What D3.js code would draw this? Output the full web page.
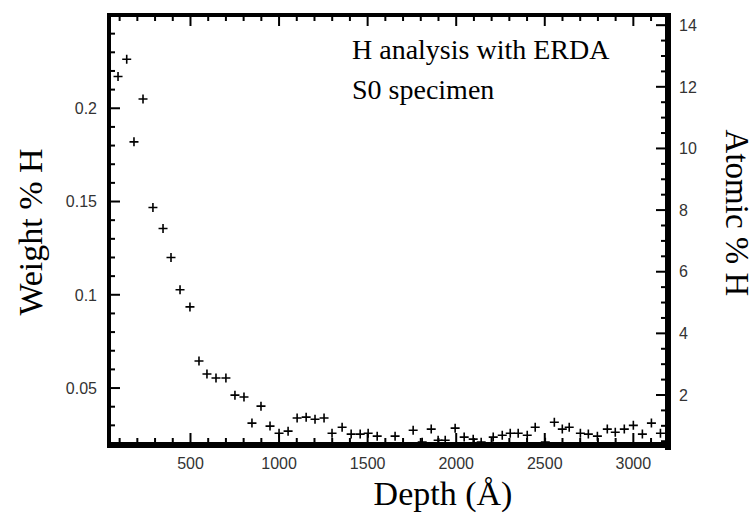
<!DOCTYPE html>
<html>
<head>
<meta charset="utf-8">
<script src="https://cdn.jsdelivr.net/npm/d3@7"></script>
<style>
  html, body { margin: 0; padding: 0; background: #fff; }
  svg { display: block; }
</style>
</head>
<body>
<svg id="chart" width="754" height="514"></svg>
<script>
// ---- data ----
const depth = [91, 140, 181, 232, 288, 345, 390, 441, 497, 548, 593, 644, 700, 751, 802, 847, 898, 949, 1000, 1051,
  1102, 1153, 1203, 1254, 1299, 1356, 1407, 1458, 1503, 1554, 1655, 1757, 1808, 1859, 1898, 1938, 1994, 2045, 2096, 2141,
  2209, 2260, 2305, 2350, 2401, 2446, 2503, 2554, 2599, 2638, 2701, 2746, 2797, 2853, 2898, 2949, 3000, 3051, 3102, 3153];
const weightH = [0.217, 0.2263, 0.182, 0.205, 0.1468, 0.1355, 0.120, 0.1027, 0.0935, 0.0645, 0.0575, 0.0554, 0.0554, 0.0462, 0.0452, 0.0312, 0.0403, 0.0296, 0.0258, 0.0269,
  0.0339, 0.0344, 0.0333, 0.0339, 0.0258, 0.029, 0.0253, 0.0253, 0.0258, 0.0242, 0.0242, 0.0274, 0.021, 0.028, 0.022, 0.022, 0.0285, 0.0237, 0.0226, 0.021,
  0.0237, 0.0247, 0.0258, 0.0258, 0.0247, 0.029, 0.021, 0.0317, 0.028, 0.029, 0.0258, 0.0253, 0.0242, 0.028, 0.0263, 0.028, 0.030, 0.0253, 0.0312, 0.0258];

const xMajorTicks = [500, 1000, 1500, 2000, 2500, 3000];
const xTickLabels = ["500", "1000", "1500", "2000", "2500", "3000"];
const yLeftMajorTicks = [0.05, 0.1, 0.15, 0.2];
const yLeftTickLabels = ["0.05", "0.1", "0.15", "0.2"];
const yRightMajorTicks = [2, 4, 6, 8, 10, 12, 14];
const yRightTickLabels = ["2", "4", "6", "8", "10", "12", "14"];

const xTitle = "Depth (Å)";
const yLeftTitle = "Weight % H";
const yRightTitle = "Atomic % H";
const noteLines = ["H analysis with ERDA", "S0 specimen"];

// ---- layout ----
const svg = d3.select("#chart");
const L = 109, R = 667, T = 15, B = 444;

const x = d3.scaleLinear().domain([40, 3190]).range([L, R]);
const y = d3.scaleLinear().domain([0.02, 0.25]).range([B, T]);
const y2 = d3.scaleLinear().domain([0.41, 14.33]).range([B, T]);

const g = svg.append("g");

const xMinor = d3.range(1, 32).map(v => v * 100).filter(v => v % 500 !== 0);
const yMinor = d3.range(3, 25).filter(v => v % 5 !== 0).map(v => v / 100);
const y2Minor = d3.range(1, 29).filter(v => v % 4 !== 0).map(v => v / 2);

function tickLine(x1, y1, x2, y2_) {
  g.append("line").attr("x1", x1).attr("y1", y1).attr("x2", x2).attr("y2", y2_)
    .attr("stroke", "#000").attr("stroke-width", 2);
}
xMajorTicks.forEach(v => { tickLine(x(v), B, x(v), B - 11); tickLine(x(v), T, x(v), T + 11); });
xMinor.forEach(v => { tickLine(x(v), B, x(v), B - 6); tickLine(x(v), T, x(v), T + 6); });
yLeftMajorTicks.forEach(v => tickLine(L, y(v), L + 11, y(v)));
yMinor.forEach(v => tickLine(L, y(v), L + 6, y(v)));
yRightMajorTicks.forEach(v => tickLine(R, y2(v), R - 11, y2(v)));
y2Minor.forEach(v => tickLine(R, y2(v), R - 6, y2(v)));

// Frame: thin top/left, thicker bottom/right
g.append("rect").attr("x", L - 2).attr("y", T - 2).attr("width", 4).attr("height", B - T + 6).attr("fill", "#000");
g.append("rect").attr("x", L - 2).attr("y", T - 2).attr("width", R - L + 6).attr("height", 4).attr("fill", "#000");
g.append("rect").attr("x", R - 2).attr("y", T - 2).attr("width", 6).attr("height", B - T + 8).attr("fill", "#000");
g.append("rect").attr("x", L - 2).attr("y", B - 2).attr("width", R - L + 6).attr("height", 6).attr("fill", "#000");

// tick labels
const tickFont = "'Liberation Sans', Arial, sans-serif";
g.selectAll(".xl").data(xMajorTicks).join("text")
  .attr("x", d => x(d)).attr("y", 469)
  .attr("text-anchor", "middle").attr("font-family", tickFont).attr("font-size", 16).attr("fill", "#333")
  .text((d, i) => xTickLabels[i]);
g.selectAll(".yl").data(yLeftMajorTicks).join("text")
  .attr("x", 97).attr("y", d => y(d)).attr("dy", "0.36em")
  .attr("text-anchor", "end").attr("font-family", tickFont).attr("font-size", 16).attr("fill", "#333")
  .text((d, i) => yLeftTickLabels[i]);
g.selectAll(".yr").data(yRightMajorTicks).join("text")
  .attr("x", 679).attr("y", d => y2(d)).attr("dy", "0.36em")
  .attr("text-anchor", "start").attr("font-family", tickFont).attr("font-size", 16).attr("fill", "#333")
  .text((d, i) => yRightTickLabels[i]);

// titles
const serif = "'Liberation Serif', 'Times New Roman', serif";
g.append("text").attr("x", 443).attr("y", 505).attr("text-anchor", "middle")
  .attr("font-family", serif).attr("font-size", 34).attr("fill", "#000").text(xTitle);
g.append("text").attr("transform", "translate(42,232) rotate(-90)").attr("text-anchor", "middle")
  .attr("font-family", serif).attr("font-size", 34).attr("fill", "#000").text(yLeftTitle);
g.append("text").attr("transform", "translate(726,213) rotate(90)").attr("text-anchor", "middle")
  .attr("font-family", serif).attr("font-size", 33).attr("fill", "#000").text(yRightTitle);

// annotation
g.selectAll(".note").data(noteLines).join("text")
  .attr("x", 352).attr("y", (d, i) => 59 + i * 40)
  .attr("font-family", serif).attr("font-size", 28).attr("fill", "#000").text(d => d);

// data markers (+)
const pts = depth.map((d, i) => ({ d, w: weightH[i] }));
const s = 4.5;
const mk = g.append("g").attr("stroke", "#000").attr("stroke-width", 1.6).attr("fill", "none");
mk.selectAll("path").data(pts).join("path")
  .attr("d", p => {
    const cx = x(p.d), cy = y(p.w);
    return `M${cx - s},${cy}H${cx + s}M${cx},${cy - s}V${cy + s}`;
  });
</script>
</body>
</html>
